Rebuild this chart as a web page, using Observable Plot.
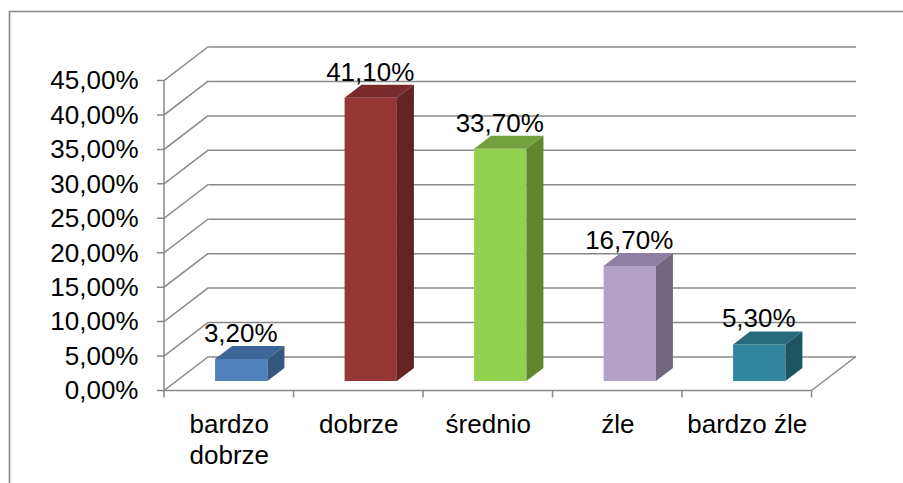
<!DOCTYPE html>
<html><head><meta charset="utf-8">
<script src="https://cdn.jsdelivr.net/npm/d3@7"></script>
<script src="https://cdn.jsdelivr.net/npm/@observablehq/plot@0.6"></script>
<style>
html,body{margin:0;padding:0;background:#fff;overflow:hidden}
#chart{position:relative;width:903px;height:483px}
</style></head><body><div id="chart"></div>
<script>
const categories = ["bardzo dobrze", "dobrze", "średnio", "źle", "bardzo źle"];
const categoryLabels = ["bardzo\ndobrze", "dobrze", "średnio", "źle", "bardzo źle"];
const values = [0.032, 0.411, 0.337, 0.167, 0.053];
const yTicks = [0, 0.05, 0.10, 0.15, 0.20, 0.25, 0.30, 0.35, 0.40, 0.45];
const frontColors = ["#4F81BD", "#953735", "#92D050", "#B3A2C7", "#31859C"];
const topColors = ["#3E6598", "#782B2A", "#72A03E", "#8C7FA1", "#276A7B"];
const sideColors = ["#34567F", "#632322", "#5E8730", "#726680", "#1F5563"];

const W = 903, H = 483, ML = 164, MR = 91.5, MT = 80.5, MB = 92.5;
const WALL = [44.5, -34];
const FACE = [12.5, -9.5];
const DEPTH = [17, -13];
const BAR_FRAC = 0.404;
const GRID = "#898989";
const BW = (W - ML - MR) / categories.length;
const BAR_W = BW * BAR_FRAC;

const pl = d3.formatLocale({decimal: ",", thousands: " ", grouping: [3], currency: ["", " zł"]});
const pct = pl.format(".2%");

const data = categories.map((c, i) => ({
  cat: c, label: categoryLabels[i], value: values[i],
  front: frontColors[i], top: topColors[i], side: sideColors[i]
}));

function bandwidthOf(sx, dims) {
  return typeof sx.bandwidth === "function" ? sx.bandwidth()
    : (dims.width - dims.marginLeft - dims.marginRight) / categories.length;
}

function walls(index, scales, v, dims) {
  const sx = scales.x, sy = scales.y;
  const x0 = dims.marginLeft, x1 = dims.width - dims.marginRight;
  const bw = bandwidthOf(sx, dims);
  const g = d3.create("svg:g").attr("fill", "none").attr("stroke", GRID).attr("stroke-width", 1.5);
  g.append("path").attr("d", `M9.5,${dims.height + 5}V11.5H${dims.width + 5}`).attr("stroke", "#868686").attr("stroke-width", 1.6);
  for (const t of yTicks) {
    const y = sy(t);
    g.append("path").attr("d", `M${x0 - 7},${y}H${x0}L${x0 + WALL[0]},${y + WALL[1]}`);
  }
  g.append("path").attr("d", `M${x1},${sy(0)}L${x1 + WALL[0]},${sy(0) + WALL[1]}`);
  g.append("path").attr("d", `M${x0},${sy(yTicks[yTicks.length - 1])}V${sy(0)}H${x1}`);
  for (let k = 0; k <= categories.length; k++) {
    const x = x0 + k * bw;
    g.append("path").attr("d", `M${x},${sy(0)}v7`);
  }
  return g.node();
}

function barSides(index, scales, v, dims) {
  const sx = scales.x, sy = scales.y;
  const bw = bandwidthOf(sx, dims);
  const g = d3.create("svg:g");
  for (const d of data) {
    const cx = sx(d.cat) + bw / 2 + FACE[0];
    const w = bw * BAR_FRAC;
    const xl = cx - w / 2, xr = cx + w / 2;
    const yt = sy(d.value) + FACE[1], yb = sy(0) + FACE[1];
    g.append("path").attr("fill", d.top)
      .attr("d", `M${xl},${yt}L${xl + DEPTH[0]},${yt + DEPTH[1]}H${xr + DEPTH[0]}L${xr},${yt}Z`);
    g.append("path").attr("fill", d.side)
      .attr("d", `M${xr},${yt}L${xr + DEPTH[0]},${yt + DEPTH[1]}V${yb + DEPTH[1]}L${xr},${yb}Z`);
  }
  return g.node();
}

const chart = Plot.plot({
  width: W, height: H,
  marginLeft: ML, marginRight: MR, marginTop: MT, marginBottom: MB,
  style: {fontFamily: "'Liberation Sans', Arial, sans-serif", fontSize: "26px", background: "#fff", color: "#000", overflow: "visible"},
  x: {type: "band", domain: categories, padding: 0, round: false, axis: null},
  y: {domain: [0, 0.45], axis: null},
  color: {type: "identity"},
  marks: [
    Plot.ruleY(yTicks, {y: d => d, dx: WALL[0], dy: WALL[1], stroke: GRID, strokeWidth: 1.5}),
    walls,
    Plot.barY(data, {
      x: "cat", y: "value", fill: "front",
      insetLeft: BW / 2 + FACE[0] - BAR_W / 2,
      insetRight: BW / 2 - FACE[0] - BAR_W / 2,
      dy: FACE[1]
    }),
    barSides,
    Plot.text(yTicks, {y: d => d, text: d => pct(d), frameAnchor: "left", textAnchor: "end", dx: -26, fontSize: 26, fill: "#000"}),
    Plot.text(data, {x: "cat", y: () => 0, text: "label", lineAnchor: "top", dy: 20, lineHeight: 1.19, fontSize: 26, fill: "#000"}),
    Plot.text(data, {x: "cat", y: "value", text: d => pct(d.value), dx: 11.5, dy: -35.5, fontSize: 26, fill: "#000"})
  ]
});
document.getElementById("chart").appendChild(chart);
</script>
</body></html>
